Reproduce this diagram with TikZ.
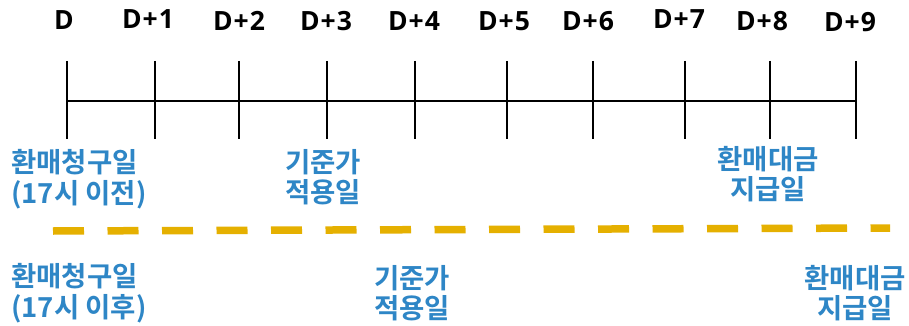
\documentclass[tikz,border=0pt]{standalone}
\usepackage{fontspec}
\newfontfamily\kr{Noto Sans CJK KR}[BoldFont={* Bold}]
\newfontfamily\daysans{Open Sans}[LetterSpace=4]
\definecolor{lblblue}{RGB}{46,134,198}
\definecolor{gold}{RGB}{229,176,0}
\begin{document}
\begin{tikzpicture}[x=1pt,y=-1pt,
  daylbl/.style={font=\daysans\bfseries\fontsize{26.5}{28}\selectfont, text=black, inner sep=0pt, anchor=center},
  note/.style={font=\kr\bfseries\fontsize{27.5}{30.5}\selectfont, text=lblblue, inner sep=0pt, align=center},
  tickline/.style={line width=2.8pt, black},
  axis/.style={line width=2.8pt, black},
  sep/.style={line width=7.5pt, gold, dash pattern=on 31pt off 23.5pt}]
\useasboundingbox (0,0) rectangle (909,326);
\fill[white] (0,0) rectangle (909,326);
% tick positions
\foreach \i/\x in {0/67,1/155,2/239,3/327,4/415,5/507,6/593,7/685,8/770,9/856}{
  \coordinate (a\i) at (\x,101);
  \coordinate (u\i) at (\x,61);
  \coordinate (l\i) at (\x,139);
}
\draw[axis] (a0) -- (a9);
\foreach \i in {0,...,9}{ \draw[tickline] (u\i) -- (l\i); }
% day labels
\node[daylbl] (d0) at (64,20) {D};
\node[daylbl] (d1) at (148,19) {D+1};
\node[daylbl] (d2) at (239,21) {D+2};
\node[daylbl] (d3) at (326,21) {D+3};
\node[daylbl] (d4) at (414,21) {D+4};
\node[daylbl] (d5) at (504,21) {D+5};
\node[daylbl] (d6) at (588,21) {D+6};
\node[daylbl] (d7) at (679,19) {D+7};
\node[daylbl] (d8) at (762,21) {D+8};
\node[daylbl] (d9) at (850,22) {D+9};
% upper notes
\node[note, align=left, anchor=west] (n1) at (11,179) {환매청구일\\(17시 이전)};
\node[note] (n2) at (323,177) {기준가\\적용일};
\node[note] (n3) at (768,174) {환매대금\\지급일};
% separator
\coordinate (s1) at (53,231);
\coordinate (s2) at (890,228);
\draw[sep] (s1) -- (s2);
% lower notes
\node[note, align=left, anchor=west] (m1) at (11,293) {환매청구일\\(17시 이후)};
\node[note] (m2) at (412,293) {기준가\\적용일};
\node[note] (m3) at (855,293) {환매대금\\지급일};
\end{tikzpicture}
\end{document}
